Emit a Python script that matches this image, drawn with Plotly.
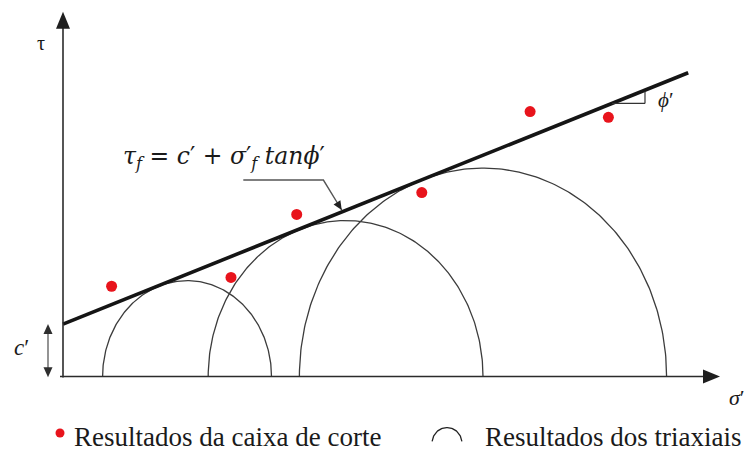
import numpy as np
import plotly.graph_objects as go

W, H = 746, 453

# Triaxial tests: effective principal stresses at failure
sigma3 = [13.2, 48.4, 78.8]
sigma1 = [69.5, 140.0, 201.2]

# Direct shear box tests: effective normal stress and shear stress at failure
shear_sigma = [16.2, 56.0, 77.9, 119.6, 155.7, 181.8]
shear_tau = [26.5, 29.1, 47.6, 54.0, 77.8, 76.1]

# Mohr-Coulomb envelope parameters
c_eff = 15.4
phi_eff = 19.5          # degrees
envelope_end = 208.4

# Axis extents of the drawn sigma'/tau axes
sig_axis_end = 219.0
tau_axis_end = 107.1

x_range = [-21.0, 227.67]
y_range = [-22.47, 110.57]
SX = W / (x_range[1] - x_range[0])   # pixels per stress unit, horizontal
SY = H / (y_range[1] - y_range[0])   # pixels per stress unit, vertical

tan_phi = np.tan(np.radians(phi_eff))


def envelope(s):
    return c_eff + np.asarray(s) * tan_phi


def head(tip_x, tip_y, ux, uy, length_px, half_px):
    """Filled triangular arrow head; (ux, uy) is the pointing direction in screen units."""
    n = np.hypot(ux, uy)
    ux, uy = ux / n, uy / n
    bx, by = -ux * length_px, -uy * length_px
    px, py = -uy * half_px, ux * half_px
    p1 = (tip_x + (bx + px) / SX, tip_y + (by + py) / SY)
    p2 = (tip_x + (bx - px) / SX, tip_y + (by - py) / SY)
    return f"M {tip_x},{tip_y} L {p1[0]},{p1[1]} L {p2[0]},{p2[1]} Z"


fig = go.Figure()

# Mohr circles (upper halves)
theta = np.linspace(0, np.pi, 200)
for s3, s1 in zip(sigma3, sigma1):
    centre = (s1 + s3) / 2
    radius = (s1 - s3) / 2
    fig.add_trace(go.Scatter(
        x=centre + radius * np.cos(theta), y=radius * np.sin(theta),
        mode="lines", line=dict(color="#3c3c3c", width=1.3),
        hoverinfo="skip", showlegend=False))

# Failure envelope
env_x = np.array([0.0, envelope_end])
fig.add_trace(go.Scatter(
    x=env_x, y=envelope(env_x), mode="lines",
    line=dict(color="#151515", width=3.6),
    hoverinfo="skip", showlegend=False))

# Direct shear results
fig.add_trace(go.Scatter(
    x=shear_sigma, y=shear_tau, mode="markers",
    marker=dict(color="#e8141c", size=11),
    hoverinfo="skip", showlegend=False))

shapes = []
axis_col = "#2b2b2b"
# sigma' and tau axes
shapes.append(dict(type="line", xref="x", yref="y", x0=-1.0, y0=0, x1=sig_axis_end - 10 / SX, y1=0,
                   line=dict(color=axis_col, width=1.6)))
shapes.append(dict(type="line", xref="x", yref="y", x0=0, y0=-0.3, x1=0, y1=tau_axis_end - 10 / SY,
                   line=dict(color=axis_col, width=1.6)))
shapes.append(dict(type="path", xref="x", yref="y", path=head(sig_axis_end, 0, 1, 0, 17, 7),
                   fillcolor="#1e1e1e", line=dict(width=0)))
shapes.append(dict(type="path", xref="x", yref="y", path=head(0, tau_axis_end, 0, 1, 17, 7),
                   fillcolor="#1e1e1e", line=dict(width=0)))

# c' dimension arrow
c_x = -15 / SX
shapes.append(dict(type="line", xref="x", yref="y", x0=c_x, y0=2.0, x1=c_x, y1=c_eff - 2.0,
                   line=dict(color="#666666", width=1.4)))
shapes.append(dict(type="path", xref="x", yref="y", path=head(c_x, c_eff, 0, 1, 10, 4.5),
                   fillcolor="#2e2e2e", line=dict(width=0)))
shapes.append(dict(type="path", xref="x", yref="y", path=head(c_x, -0.2, 0, -1, 10, 4.5),
                   fillcolor="#2e2e2e", line=dict(width=0)))

# phi' angle marker
phi_x0, phi_x1 = 183.0, 194.0
shapes.append(dict(type="line", xref="x", yref="y", x0=phi_x0, y0=float(envelope(phi_x0)),
                   x1=phi_x1, y1=float(envelope(phi_x0)), line=dict(color="#333333", width=1.2)))
shapes.append(dict(type="line", xref="x", yref="y", x0=phi_x1, y0=float(envelope(phi_x0)),
                   x1=phi_x1, y1=float(envelope(phi_x1)) - 0.4, line=dict(color="#333333", width=1.2)))

# Leader line for the envelope equation
lead_y = 57.7
lead_x0, lead_x1, lead_tip = 60.1, 86.8, 92.9
tip_y = float(envelope(lead_tip)) + 0.6
shapes.append(dict(type="path", xref="x", yref="y",
                   path=f"M {lead_x0},{lead_y} L {lead_x1},{lead_y} L {lead_tip},{tip_y}",
                   line=dict(color="#555555", width=1.4)))
shapes.append(dict(type="path", xref="x", yref="y",
                   path=head(lead_tip, tip_y, (lead_tip - lead_x1) * SX, (tip_y - lead_y) * SY, 9, 4),
                   fillcolor="#222222", line=dict(width=0)))

fig.update_layout(shapes=shapes)

serif = "Liberation Serif"
ann = []
ann.append(dict(x=53.5, y=64.4, xref="x", yref="y", showarrow=False,
                text="<i>τ<sub>f</sub></i> = <i>c</i>′ + <i>σ</i>′<sub><i>f</i></sub> <i>tanϕ</i>′",
                font=dict(family="DejaVu Serif", size=23.5, color="#1a1a1a")))
ann.append(dict(x=-7.4, y=97.9, xref="x", yref="y", showarrow=False, text="τ",
                font=dict(family=serif, size=20, color="#1a1a1a")))
ann.append(dict(x=224.7, y=-6.3, xref="x", yref="y", showarrow=False, text="<i>σ</i>′",
                font=dict(family=serif, size=22, color="#1a1a1a")))
ann.append(dict(x=-13.7, y=8.4, xref="x", yref="y", showarrow=False, text="<i>c</i>′",
                font=dict(family=serif, size=23, color="#1a1a1a")))
ann.append(dict(x=200.7, y=81.2, xref="x", yref="y", showarrow=False, text="<i>ϕ</i>′",
                font=dict(family=serif, size=21, color="#1a1a1a")))

# Legend (drawn manually)
leg_y = -17.8
fig.add_trace(go.Scatter(x=[-1.0], y=[-16.6], mode="markers",
                         marker=dict(color="#e8141c", size=9),
                         hoverinfo="skip", showlegend=False))
arc_t = np.linspace(0.12, np.pi - 0.12, 60)
fig.add_trace(go.Scatter(x=128.0 + 5.0 * np.cos(arc_t), y=-19.6 + 4.6 * np.sin(arc_t),
                         mode="lines", line=dict(color="#222222", width=1.3),
                         hoverinfo="skip", showlegend=False))
ann.append(dict(x=3.0, y=leg_y, xref="x", yref="y", xanchor="left", showarrow=False,
                text="Resultados da caixa de corte",
                font=dict(family=serif, size=27, color="#1a1a1a")))
ann.append(dict(x=140.0, y=leg_y, xref="x", yref="y", xanchor="left", showarrow=False,
                text="Resultados dos triaxiais",
                font=dict(family=serif, size=27, color="#1a1a1a")))

fig.update_layout(
    annotations=ann,
    width=W, height=H, autosize=False,
    margin=dict(l=0, r=0, t=0, b=0),
    paper_bgcolor="white", plot_bgcolor="white",
    xaxis=dict(range=x_range, visible=False, fixedrange=True),
    yaxis=dict(range=y_range, visible=False, fixedrange=True),
    showlegend=False,
)

fig.write_html("out.html")
